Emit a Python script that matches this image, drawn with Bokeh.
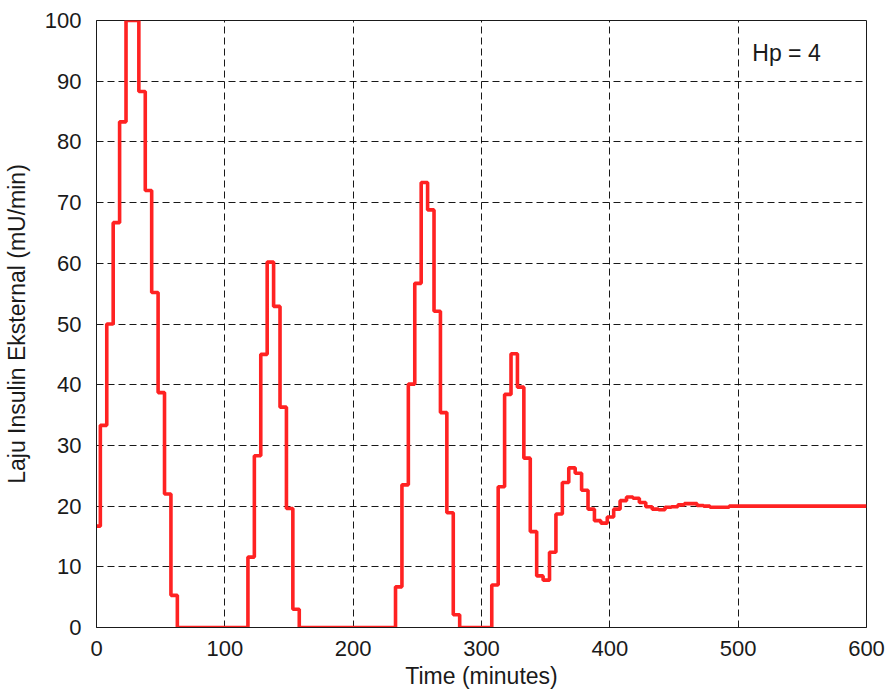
from bokeh.plotting import figure
from bokeh.models import Range1d, FixedTicker, Label
from bokeh.embed import file_html
from bokeh.resources import INLINE

# Control input (external insulin rate) sampled every 5 minutes, held between samples
step_times = [0, 3, 8, 13, 18, 23, 33, 38, 43, 48, 53, 58, 63,
              118, 123, 128, 133, 138, 143, 148, 153, 158,
              233, 238, 243, 248, 253, 258, 263, 268, 273, 278, 283,
              308, 313, 318, 323, 328, 333, 338, 343, 348, 353, 358, 363, 368,
              373, 378, 383, 388, 393, 398, 403, 408, 413, 418, 423, 428, 433,
              438, 443, 448, 453, 458, 463, 468, 473, 478, 483, 488, 493, 498, 600]
insulin_rate = [16.7, 33.3, 50.0, 66.7, 83.3, 100.0, 88.3, 72.0, 55.2, 38.7, 22.0, 5.3, 0.0,
                11.6, 28.3, 45.0, 60.2, 52.9, 36.3, 19.6, 3.0, 0.0,
                6.7, 23.5, 40.1, 56.7, 73.3, 68.8, 52.1, 35.4, 18.9, 2.1, 0.0,
                7.0, 23.2, 38.4, 45.1, 39.6, 27.9, 15.8, 8.5, 7.8, 12.4, 18.7, 23.9, 26.3,
                25.4, 22.6, 19.5, 17.6, 17.2, 18.2, 19.5, 20.9, 21.5, 21.3, 20.6, 19.9, 19.5,
                19.4, 19.8, 19.9, 20.2, 20.4, 20.4, 20.1, 20.0, 19.8, 19.8, 19.8, 20.0, 20.0, 20.0]

x_ticks = [0, 100, 200, 300, 400, 500, 600]
y_ticks = [0, 10, 20, 30, 40, 50, 60, 70, 80, 90, 100]
horizon_label = "Hp = 4"

FONT = "Liberation Sans"
TICK_FS = "22px"
LABEL_FS = "23px"

p = figure(width=891, height=692, output_backend="svg", toolbar_location=None,
           x_range=Range1d(0, 600), y_range=Range1d(0, 100))
p.min_border_left = 96
p.min_border_right = 25
p.min_border_top = 20
p.min_border_bottom = 65
p.background_fill_color = "white"
p.border_fill_color = "white"
p.outline_line_color = "#1a1a1a"
p.outline_line_width = 1
p.outline_line_alpha = 1

p.step(step_times, insulin_rate, mode="after", line_color="#ff2222", line_width=3.6)

for ax in (p.xaxis[0], p.yaxis[0]):
    ax.major_tick_line_color = None
    ax.minor_tick_line_color = None
    ax.axis_line_color = "#1a1a1a"
    ax.major_label_text_font = FONT
    ax.major_label_text_font_size = TICK_FS
    ax.major_label_text_color = "#1a1a1a"
    ax.axis_label_text_font = FONT
    ax.axis_label_text_font_size = LABEL_FS
    ax.axis_label_text_font_style = "normal"
    ax.axis_label_text_color = "#1a1a1a"

p.xaxis.ticker = FixedTicker(ticks=x_ticks)
p.yaxis.ticker = FixedTicker(ticks=y_ticks)
p.xaxis.axis_label = "Time (minutes)"
p.yaxis.axis_label = "Laju Insulin Eksternal (mU/min)"
p.xaxis.major_label_standoff = 7
p.yaxis.major_label_standoff = 9
p.xaxis.axis_label_standoff = 4
p.yaxis.axis_label_standoff = 12

for g in (p.xgrid[0], p.ygrid[0]):
    g.grid_line_color = "black"
    g.grid_line_alpha = 0.9
    g.grid_line_dash = "7 4"
    g.grid_line_width = 1

p.add_layout(Label(x=511, y=94.7, text=horizon_label, text_font=FONT,
                   text_font_size=LABEL_FS, text_color="#1a1a1a", text_baseline="middle",
                   text_align="left"))

open("out.html", "w").write(file_html(p, INLINE))
